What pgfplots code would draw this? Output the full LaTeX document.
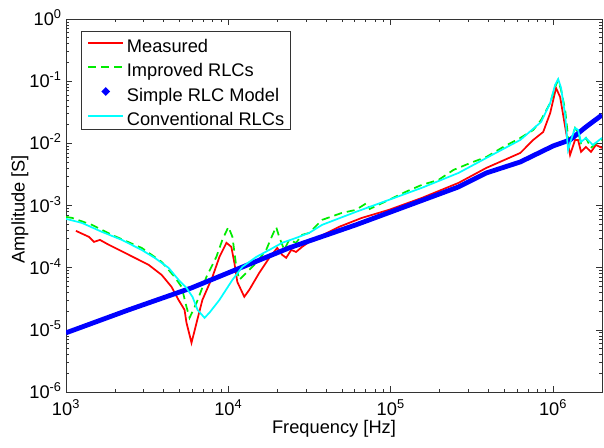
\documentclass[border=0pt]{standalone}
\usepackage{fontspec}
\setmainfont{Liberation Sans}
\usepackage{pgfplots}
\pgfplotsset{compat=1.18}
\definecolor{mgreen}{RGB}{0,235,0}
\definecolor{mcyan}{RGB}{0,255,255}
\begin{document}
\begin{tikzpicture}
\path[use as bounding box] (0,0) rectangle (453pt,335.25pt);
\begin{axis}[
  at={(49.5pt,41.25pt)}, anchor=south west,
  scale only axis, width=402pt, height=279.75pt,
  xmode=log, ymode=log, log basis x=10, log basis y=10,
  xmin=1e3, xmax=2e6, ymin=1e-6, ymax=1,
  font=\fontsize{13.7}{16}\selectfont,
  xticklabel={10\textsuperscript{\pgfmathparse{int(round(\tick))}\pgfmathresult}},
  yticklabel={10\textsuperscript{\pgfmathparse{int(round(\tick))}\pgfmathresult}},
  xticklabel style={anchor=base, yshift=-17.25pt, inner sep=0pt},
  yticklabel style={anchor=base east, xshift=-3pt, yshift=-4.9pt, inner sep=0pt},
  xlabel={Frequency [Hz]}, ylabel={Amplitude [S]},
  xlabel style={at={(axis description cs:0.5,0)}, anchor=center, yshift=-27.75pt},
  ylabel style={at={(axis description cs:-0.0858,0.49)}, anchor=center},
  major tick length=4.5pt, minor tick length=2.5pt,
  tick align=inside,
  every tick/.style={black!80, line width=0.5pt},
  axis line style={black!80, line width=0.6pt},
  legend image code/.code={\path (0pt,0pt) (26pt,0pt); \draw[#1] (0pt,0.75pt) -- (26pt,0.75pt);},
  legend cell align=left,
  legend style={at={(axis description cs:0.028,0.968)}, anchor=north west,
    draw=black!80, line width=0.6pt, inner xsep=3.4pt, inner ysep=0.25pt,
    font=\fontsize{13.7}{16}\selectfont,
    nodes={inner xsep=1.1pt, inner ysep=0pt, text height=15.5pt, text depth=2.75pt}},
]
\addplot[red, line width=1.3pt] table {
1151 3.91e-4
1384 3.13e-4
1486 2.60e-4
1617 2.80e-4
1837 2.33e-4
2437 1.61e-4
3228 1.11e-4
3881 7.66e-5
4467 4.91e-5
4932 3.03e-5
5370 2.10e-5
5521 1.30e-5
5929 6.18e-6
6368 1.30e-5
6918 3.03e-5
7980 7.11e-5
8810 1.49e-4
9727 2.51e-4
10430 2.16e-4
10890 1.19e-4
11350 5.91e-5
12530 3.40e-5
13450 4.40e-5
15490 8.24e-5
17860 1.44e-4
20000 2.08e-4
21430 1.61e-4
22700 1.44e-4
24380 1.93e-4
26120 1.79e-4
28440 2.16e-4
31410 2.60e-4
47970 4.53e-4
66370 6.32e-4
97270 8.50e-4
154900 1.32e-3
261300 2.31e-3
388200 4.03e-3
628100 7.01e-3
754200 1.135e-2
868800 1.524e-2
959400 3.08e-2
1042000 7.78e-2
1104000 5.57e-2
1186000 1.836e-2
1271000 6.51e-3
1365000 1.135e-2
1423000 1.135e-2
1486000 7.28e-3
1592000 8.75e-3
1710000 7.28e-3
1836000 9.42e-3
2000000 8.43e-3
};
\addlegendentry{Measured}
\addplot[mgreen, line width=1.3pt, dash pattern=on 6pt off 3.75pt] table {
1000 6.56e-4
1089 6.32e-4
1445 4.88e-4
1916 3.37e-4
2924 2.08e-4
3881 1.24e-4
4667 7.11e-5
5152 4.91e-5
5521 2.34e-5
5768 1.56e-5
6368 2.72e-5
7328 7.11e-5
8433 1.49e-4
9183 2.80e-4
10000 4.53e-4
10590 3.13e-4
11190 1.03e-4
11670 6.37e-5
12880 8.24e-5
14860 1.19e-4
17100 1.93e-4
18360 3.01e-4
19680 4.53e-4
20560 3.13e-4
22080 1.93e-4
23660 2.80e-4
26120 2.51e-4
28440 3.37e-4
31410 3.62e-4
37760 5.87e-4
50000 7.60e-4
60950 8.50e-4
71260 1.10e-3
74300 8.81e-4
97270 1.23e-3
123600 1.66e-3
154900 2.14e-3
196800 2.58e-3
243500 3.74e-3
309700 4.84e-3
388200 6.04e-3
493200 8.75e-3
628100 1.222e-2
754200 1.64e-2
843300 2.38e-2
959400 4.47e-2
1028000 8.07e-2
1074000 0.1045
1119000 7.22e-2
1186000 3.44e-2
1236000 1.268e-2
1289000 1.135e-2
1365000 1.77e-2
1423000 1.524e-2
1486000 1.014e-2
1592000 1.222e-2
1710000 8.43e-3
1836000 1.014e-2
2000000 1.135e-2
};
\addlegendentry{Improved RLCs}
\addplot[blue, line width=3.6pt,
  legend image code/.code={\path (0pt,0pt) (26pt,0pt); \fill[blue] (13pt,0.75pt) circle (0.75pt);}] table {
1000 8.95e-6
2437 2.10e-5
5929 4.73e-5
23660 2.08e-4
60950 4.88e-4
261300 1.99e-3
388200 3.34e-3
628100 5.02e-3
1000000 9.08e-3
1271000 1.135e-2
1592000 1.836e-2
2000000 2.86e-2
};
\addlegendentry{Simple RLC Model}
\addplot[mcyan, line width=1.3pt] table {
1000 6.09e-4
1253 5.25e-4
1663 3.77e-4
2207 2.80e-4
2924 1.93e-4
3517 1.44e-4
4285 9.93e-5
4932 6.37e-5
5521 4.73e-5
6012 3.40e-5
6457 2.10e-5
7129 1.56e-5
7638 1.88e-5
8810 3.03e-5
10590 6.37e-5
12190 1.03e-4
14860 1.49e-4
17860 1.93e-4
21430 2.51e-4
26120 3.01e-4
31410 3.62e-4
37760 4.88e-4
60950 7.89e-4
97270 1.23e-3
154900 1.92e-3
261300 3.34e-3
388200 5.82e-3
628100 1.135e-2
843300 2.21e-2
959400 4.47e-2
1028000 0.0869
1074000 0.108
1119000 0.0778
1186000 0.0286
1236000 7.83e-3
1289000 1.135e-2
1365000 1.77e-2
1423000 1.64e-2
1486000 1.054e-2
1592000 1.222e-2
1758000 9.42e-3
2000000 1.222e-2
};
\addlegendentry{Conventional RLCs}
\end{axis}
\end{tikzpicture}
\end{document}
